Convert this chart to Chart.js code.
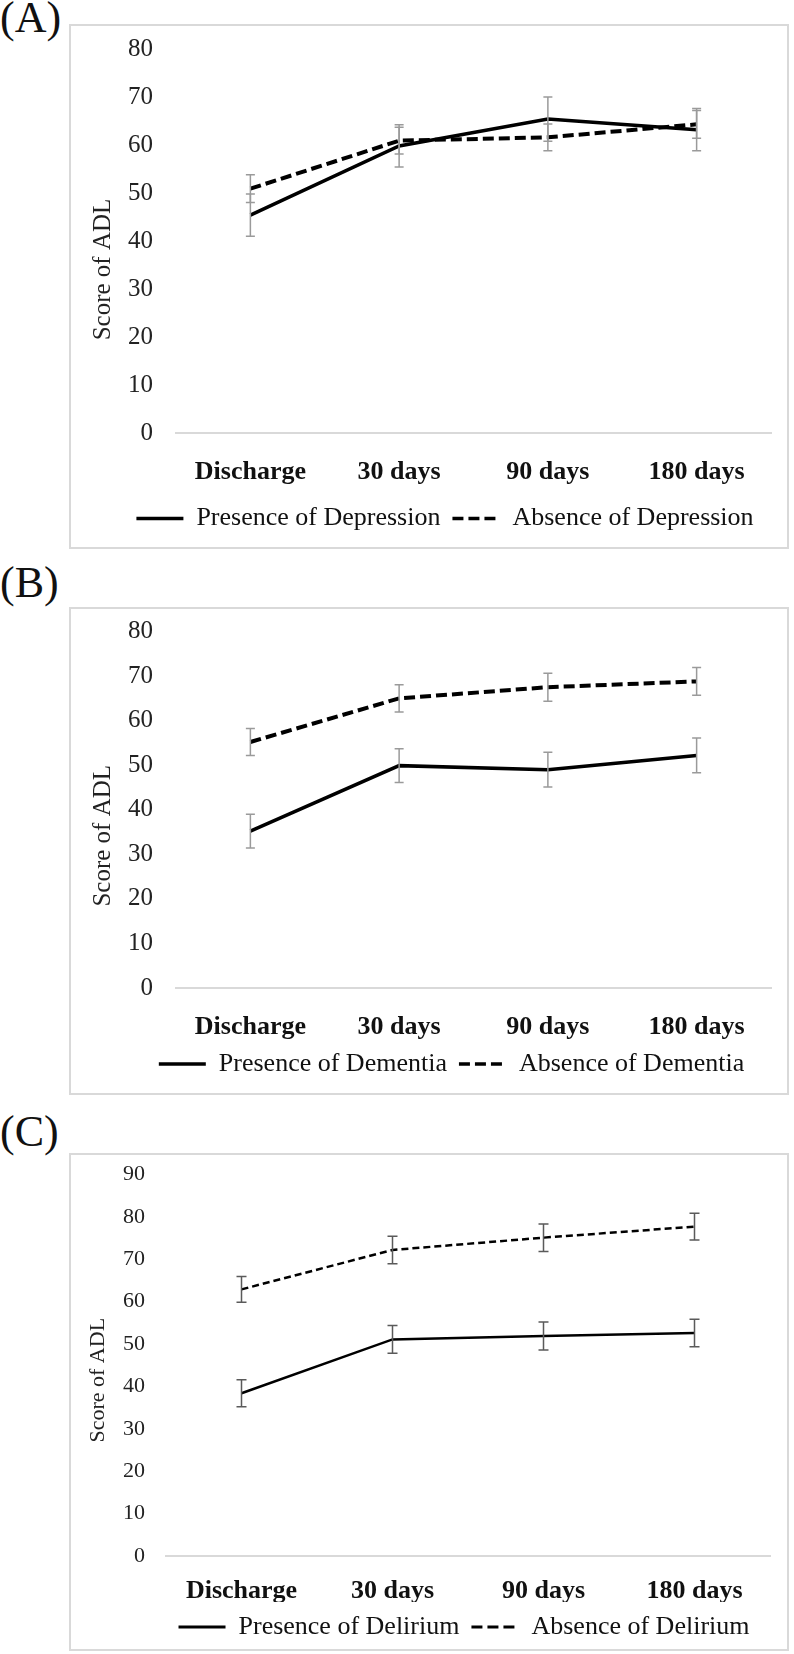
<!DOCTYPE html>
<html><head><meta charset="utf-8">
<script src="https://cdn.jsdelivr.net/npm/chart.js@4.4.1/dist/chart.umd.min.js"></script>
<style>
html,body{margin:0;padding:0;background:#fff;}
body{width:794px;height:1654px;position:relative;overflow:hidden;font-family:"Liberation Serif","Times New Roman",serif;}
.lbl{position:absolute;left:0px;font-size:44px;line-height:1;color:#111;}
.box{position:absolute;border:2px solid #d9d9d9;box-sizing:border-box;}
canvas{position:absolute;}
</style></head><body>
<div class="lbl" style="top:-4px">(A)</div>
<div class="box" style="left:69px;top:24px;width:720px;height:525px"></div>
<canvas id="cA" width="720" height="525" style="left:69px;top:24px"></canvas>
<div class="lbl" style="top:561px">(B)</div>
<div class="box" style="left:69px;top:607px;width:720px;height:488px"></div>
<canvas id="cB" width="720" height="488" style="left:69px;top:607px"></canvas>
<div class="lbl" style="top:1110px">(C)</div>
<div class="box" style="left:69px;top:1153px;width:720px;height:498px"></div>
<canvas id="cC" width="720" height="498" style="left:69px;top:1153px"></canvas>
<script>
// ---- data ----
const categories = ['Discharge', '30 days', '90 days', '180 days'];
const yMaxAB = 80;
const yMaxC = 90;
const yStep = 10;
const yAxisTitle = 'Score of ADL';

const depPresenceLabel = 'Presence of Depression';
const depAbsenceLabel = 'Absence of Depression';
const depPresence = [45.4, 59.8, 65.4, 63.2];
const depPresenceErr = [4.4, 4.4, 4.6, 4.4];
const depAbsence = [50.9, 60.9, 61.6, 64.3];
const depAbsenceErr = [2.9, 2.8, 2.8, 2.9];

const demPresenceLabel = 'Presence of Dementia';
const demAbsenceLabel = 'Absence of Dementia';
const demPresence = [35.2, 49.9, 49.0, 52.2];
const demPresenceErr = [3.8, 3.8, 3.9, 3.9];
const demAbsence = [55.2, 65.0, 67.5, 68.8];
const demAbsenceErr = [3.05, 3.05, 3.15, 3.1];

const delPresenceLabel = 'Presence of Delirium';
const delAbsenceLabel = 'Absence of Delirium';
const delPresence = [38.4, 51.1, 51.9, 52.6];
const delPresenceErr = [3.2, 3.25, 3.3, 3.25];
const delAbsence = [62.9, 72.2, 75.1, 77.7];
const delAbsenceErr = [3.05, 3.25, 3.25, 3.15];

Chart.defaults.font.family = "'Liberation Serif','Times New Roman',serif";
Chart.defaults.color = '#111';

const errorBars = {
  id: 'errorBars',
  afterDatasetsDraw(chart, args, opts) {
    const ctx = chart.ctx, y = chart.scales.y;
    ctx.save();
    ctx.strokeStyle = opts.color;
    ctx.lineWidth = opts.width;
    chart.data.datasets.forEach((ds, di) => {
      const meta = chart.getDatasetMeta(di);
      ds.data.forEach((v, i) => {
        const e = ds.errors[i];
        const px = meta.data[i].x;
        const t = y.getPixelForValue(v + e), b = y.getPixelForValue(v - e);
        ctx.beginPath();
        ctx.moveTo(px, t); ctx.lineTo(px, b);
        ctx.moveTo(px - opts.cap, t); ctx.lineTo(px + opts.cap, t);
        ctx.moveTo(px - opts.cap, b); ctx.lineTo(px + opts.cap, b);
        ctx.stroke();
      });
    });
    ctx.restore();
  }
};

const yTitle = {
  id: 'yTitle',
  afterDraw(chart, args, opts) {
    const ctx = chart.ctx, a = chart.chartArea;
    ctx.save();
    ctx.translate(opts.x, (a.top + a.bottom) / 2 + opts.offset);
    ctx.rotate(-Math.PI / 2);
    ctx.font = opts.size + "px 'Liberation Serif','Times New Roman',serif";
    ctx.fillStyle = '#222';
    ctx.textAlign = 'center';
    ctx.textBaseline = 'middle';
    ctx.fillText(opts.text, 0, 0);
    ctx.restore();
  }
};

const legendShift = {
  id: 'legendShift',
  afterLayout(chart, args, opts) {
    const l = chart.legend;
    if (l) { l.left += opts.dx; l.right += opts.dx; }
  }
};

function makeChart(id, c) {
  new Chart(document.getElementById(id), {
    type: 'line',
    data: {
      labels: categories,
      datasets: [
        { label: c.pLabel, data: c.p, errors: c.pErr, borderColor: '#000', backgroundColor: '#000',
          borderWidth: c.lw, pointRadius: 0, tension: 0 },
        { label: c.aLabel, data: c.a, errors: c.aErr, borderColor: '#000', backgroundColor: '#000',
          borderWidth: c.dw, borderDash: c.dash, pointRadius: 0, tension: 0 }
      ]
    },
    options: {
      responsive: false, animation: false, devicePixelRatio: 1,
      layout: { padding: { left: 0, right: c.padRight, top: c.padTop, bottom: c.padBottom } },
      scales: {
        x: {
          offset: true,
          grid: { display: false, drawTicks: false },
          border: { display: true, color: '#d9d9d9', width: 2 },
          ticks: { padding: c.xPad, color: '#111', font: { size: 26, weight: 'bold' }, maxRotation: 0 },
          afterFit(s) { s.height = c.xHeight; }
        },
        y: {
          min: 0, max: c.yMax,
          grid: { display: false, drawTicks: false },
          border: { display: false },
          ticks: { stepSize: yStep, padding: c.tickPad, color: '#222', font: { size: c.tickSize } },
          afterFit(s) { s.width = c.yWidth; s.paddingTop = 0; s.paddingBottom = 0; }
        }
      },
      plugins: {
        tooltip: { enabled: false },
        legend: {
          position: 'bottom',
          labels: {
            usePointStyle: true, pointStyle: 'line', pointStyleWidth: 47, padding: 12,
            color: '#111', font: { size: 26 },
            generateLabels(chart) {
              return chart.data.datasets.map((ds, i) => ({
                text: ds.label, datasetIndex: i, hidden: false,
                fillStyle: '#000', strokeStyle: '#000', fontColor: '#111',
                lineWidth: c.legendLw, lineDash: i === 1 ? c.legendDash : [],
                lineCap: 'butt', pointStyle: 'line'
              }));
            }
          }
        },
        legendShift: { dx: c.legendDx },
        errorBars: { color: c.errColor, width: 1.5, cap: c.cap },
        yTitle: { text: yAxisTitle, x: c.titleX, offset: c.titleOffset, size: c.titleSize }
      }
    },
    plugins: [legendShift, errorBars, yTitle]
  });
}

makeChart('cA', {
  p: depPresence, pErr: depPresenceErr, a: depAbsence, aErr: depAbsenceErr,
  pLabel: depPresenceLabel, aLabel: depAbsenceLabel, yMax: yMaxAB,
  lw: 3.5, dw: 4, dash: [11, 5], legendLw: 3.5, legendDash: [11, 5], legendDx: 25,
  padRight: 18, padTop: 25, padBottom: 7.5,
  xHeight: 60.5, xPad: 23.5, yWidth: 107, tickPad: 23, tickSize: 25,
  errColor: '#9a9a9a', cap: 4.5, titleX: 34, titleOffset: 28.5, titleSize: 25
});
makeChart('cB', {
  p: demPresence, pErr: demPresenceErr, a: demAbsence, aErr: demAbsenceErr,
  pLabel: demPresenceLabel, aLabel: demAbsenceLabel, yMax: yMaxAB,
  lw: 3.5, dw: 4, dash: [11, 5], legendLw: 3.5, legendDash: [11, 5], legendDx: 31.5,
  padRight: 18, padTop: 24.5, padBottom: 8,
  xHeight: 51, xPad: 23.5, yWidth: 107, tickPad: 23, tickSize: 25,
  errColor: '#9a9a9a', cap: 4.5, titleX: 34, titleOffset: 26, titleSize: 25
});
makeChart('cC', {
  p: delPresence, pErr: delPresenceErr, a: delAbsence, aErr: delAbsenceErr,
  pLabel: delPresenceLabel, aLabel: delAbsenceLabel, yMax: yMaxC,
  lw: 2.5, dw: 2.5, dash: [7, 4], legendLw: 3, legendDash: [11, 5], legendDx: 44.5,
  padRight: 19, padTop: 21.5, padBottom: 1,
  xHeight: 46, xPad: 20, yWidth: 97, tickPad: 21, tickSize: 22,
  errColor: '#5a5a5a', cap: 5, titleX: 29, titleOffset: 15, titleSize: 22
});
</script>
</body></html>
